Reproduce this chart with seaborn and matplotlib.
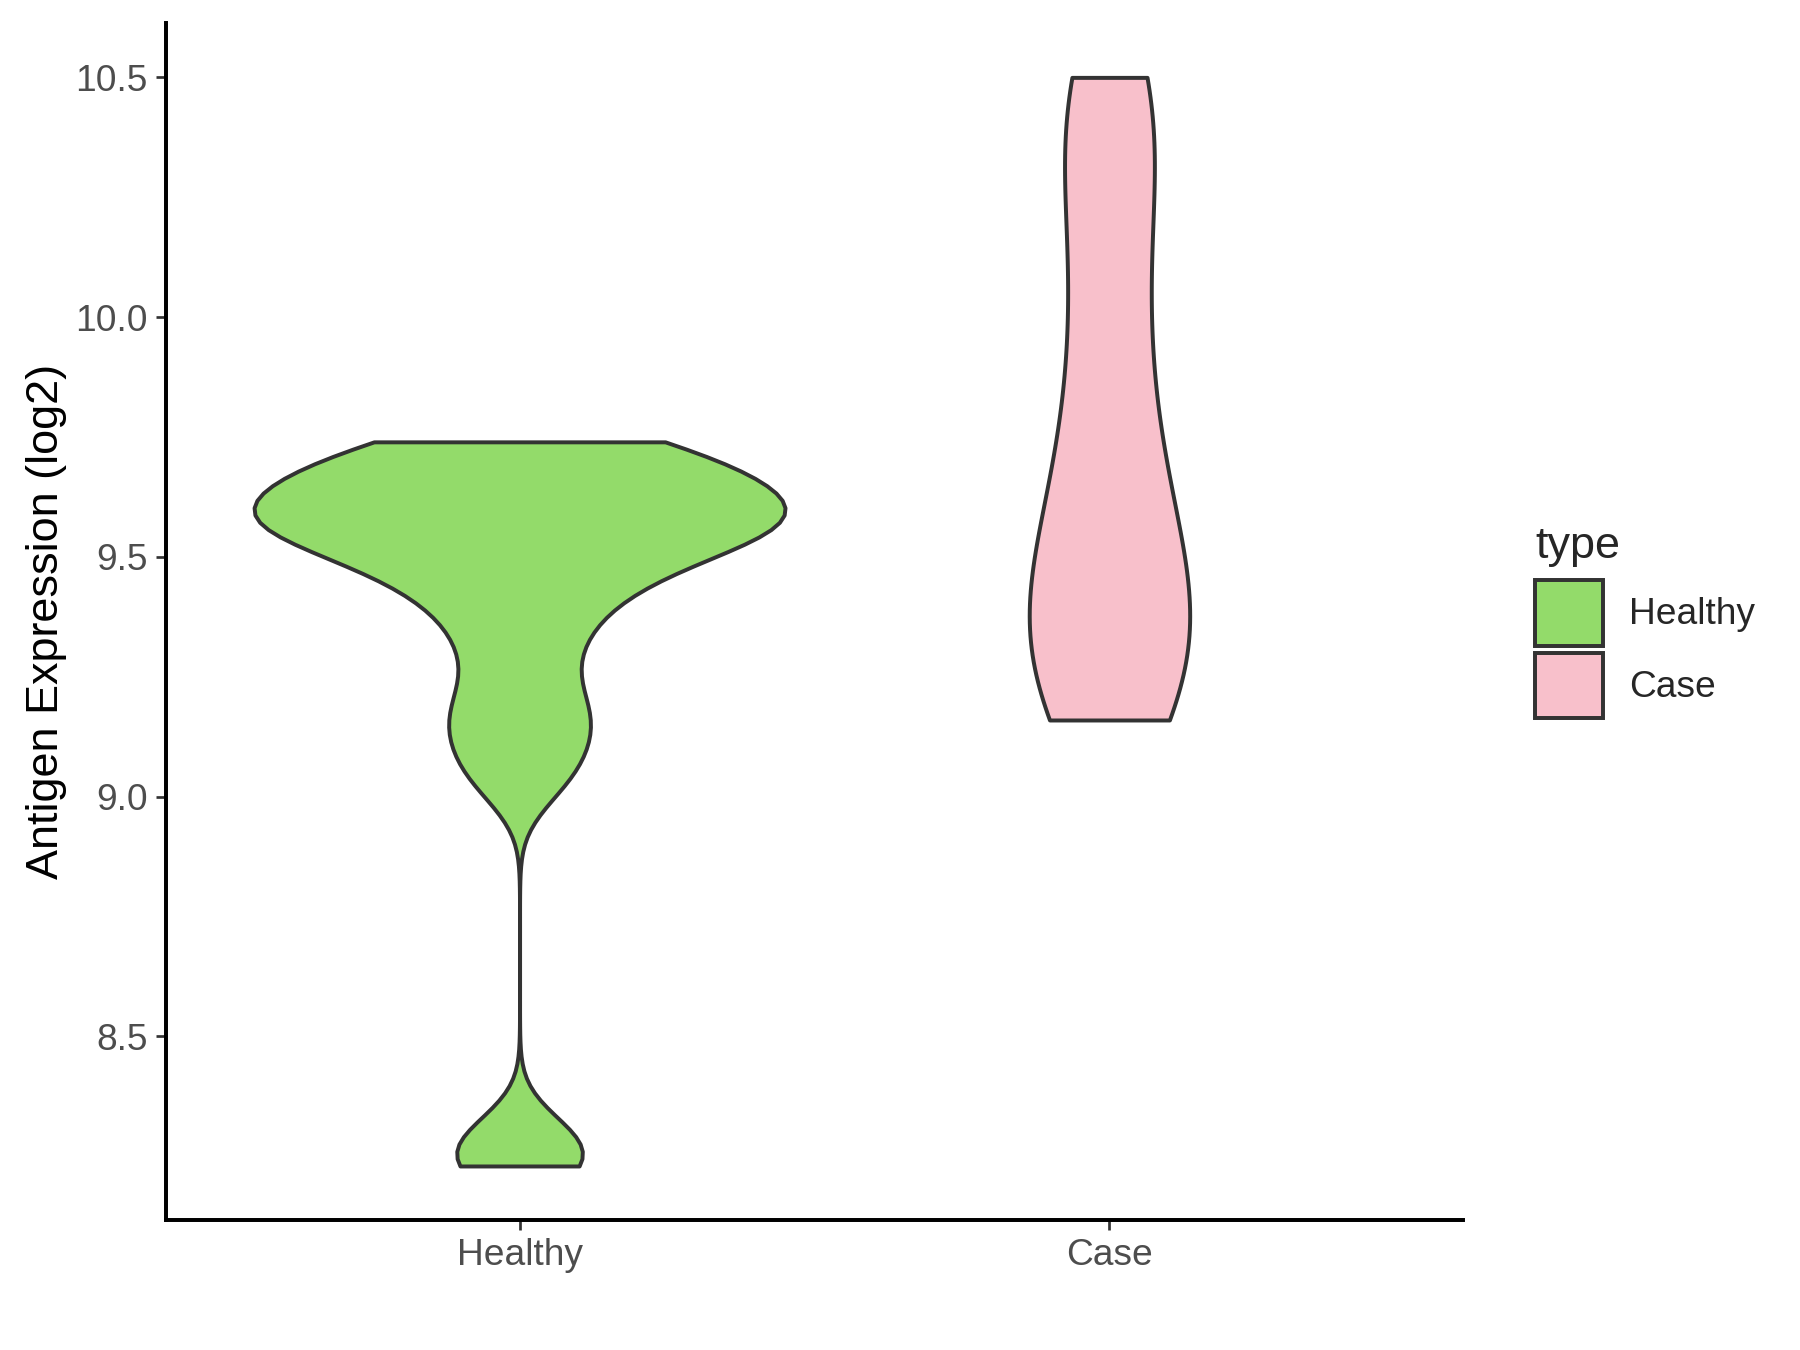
import pandas as pd
import seaborn as sns
import matplotlib.pyplot as plt
from matplotlib.patches import Patch

# Datos (log2)
categorias = ["Healthy", "Case"]
healthy = [8.23, 8.28,
           9.04, 9.13, 9.20, 9.31,
           9.40, 9.45, 9.50, 9.53, 9.55, 9.57, 9.58, 9.60, 9.62, 9.64, 9.67, 9.70, 9.72, 9.74]
case = [9.16, 9.18, 9.22, 9.27, 9.32, 9.37, 9.41, 9.46, 9.53, 9.62, 9.68, 9.80, 9.92,
        10.05, 10.18, 10.30, 10.42, 10.48, 10.50]
colores = {"Healthy": "#93DB6A", "Case": "#F8C0CB"}

df = pd.DataFrame({
    "type": ["Healthy"] * len(healthy) + ["Case"] * len(case),
    "valor": healthy + case,
})

sns.set_style("ticks")
plt.rcParams["font.family"] = ["Liberation Sans", "DejaVu Sans"]

fig, ax = plt.subplots(figsize=(12, 9), dpi=150)
fig.subplots_adjust(left=0.092, right=0.813, bottom=0.096, top=0.983)

# cada grupo con su propio ancho y suavizado
for grupo, ancho, bw in [("Healthy", 0.9, 0.3), ("Case", 0.272, 0.8)]:
    sns.violinplot(data=df[df["type"] == grupo], x="type", y="valor", hue="type",
                   order=categorias, hue_order=categorias, palette=colores,
                   saturation=1, cut=0, inner=None, density_norm="width", width=ancho,
                   bw_adjust=bw, linewidth=1.9, linecolor="#333333",
                   legend=False, ax=ax)

ax.set_xlim(-0.6, 1.6)
ax.set_ylim(8.1165, 10.6135)
ax.set_yticks([8.5, 9.0, 9.5, 10.0, 10.5])
ax.set_yticklabels(["8.5", "9.0", "9.5", "10.0", "10.5"])
ax.set_xlabel("")
ax.set_ylabel("Antigen Expression (log2)", fontsize=21.6, color="black")
ax.tick_params(labelsize=17.8, labelcolor="#4D4D4D", color="#333333", length=5, width=1.3)
for lado in ["top", "right"]:
    ax.spines[lado].set_visible(False)
for lado in ["left", "bottom"]:
    ax.spines[lado].set_linewidth(1.9)
    ax.spines[lado].set_color("black")

handles = [Patch(facecolor=colores[c], edgecolor="#333333", linewidth=1.9, label=c)
           for c in categorias]
leg = fig.legend(handles=handles, title="type", loc="center left",
                 bbox_to_anchor=(0.853, 0.539), frameon=False, fontsize=17.8,
                 title_fontsize=21.6, handlelength=1.82, handleheight=2.35,
                 labelspacing=0.19, handletextpad=0.7, borderpad=0, borderaxespad=0)
leg._legend_box.align = "left"
leg._legend_box.sep = 6

plt.savefig("out.png", dpi=150)
